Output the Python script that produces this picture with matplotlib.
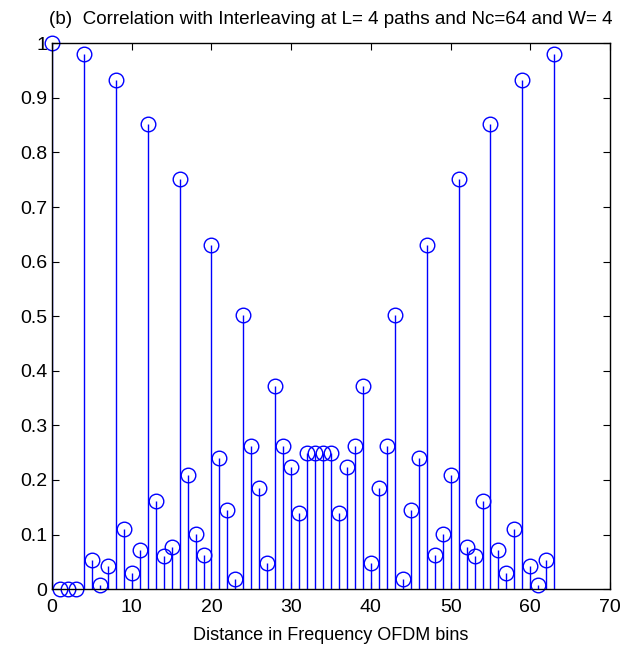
import matplotlib
matplotlib.use('Agg')
import numpy as np
import matplotlib.pyplot as plt
from matplotlib.ticker import FormatStrFormatter

matplotlib.rcParams['font.family'] = ['Liberation Sans', 'DejaVu Sans']
matplotlib.rcParams['font.size'] = 14

# distance in bins (0..63) and correlation values
distance = list(range(64))
corr = [1.000, 0.000, 0.000, 0.000, 0.981, 0.054, 0.008, 0.043,
        0.932, 0.110, 0.029, 0.071, 0.853, 0.162, 0.060, 0.078,
        0.751, 0.209, 0.101, 0.063, 0.631, 0.241, 0.145, 0.019,
        0.503, 0.262, 0.186, 0.048, 0.372, 0.262, 0.224, 0.139,
        0.250, 0.250, 0.250, 0.250, 0.139, 0.224, 0.262, 0.372,
        0.048, 0.186, 0.262, 0.503, 0.019, 0.145, 0.241, 0.631,
        0.063, 0.101, 0.209, 0.751, 0.078, 0.060, 0.162, 0.853,
        0.071, 0.029, 0.110, 0.932, 0.043, 0.008, 0.054, 0.981]

title = '(b)  Correlation with Interleaving at L= 4 paths and Nc=64 and W= 4'

fig = plt.figure(figsize=(6.27, 6.46), dpi=100)
ax = fig.add_axes([0.083, 0.088, 0.890, 0.845])

markerline, stemlines, baseline = ax.stem(distance, corr, linefmt='b-', markerfmt='o', basefmt='k-')
markerline.set_markerfacecolor('none')
markerline.set_markeredgecolor('blue')
markerline.set_markersize(10.5)
markerline.set_markeredgewidth(1.0)
markerline.set_clip_on(False)
stemlines.set_linewidth(1.0)
baseline.set_visible(False)

ax.set_xlim(0, 70)
ax.set_ylim(0, 1)
ax.set_xticks(np.arange(0, 71, 10))
ax.set_yticks(np.arange(0, 1.01, 0.1))
ax.yaxis.set_major_formatter(FormatStrFormatter('%g'))
ax.tick_params(direction='in', top=True, right=True, length=5, labelsize=14)
ax.tick_params(axis='x', pad=7)
for s in ax.spines.values():
    s.set_linewidth(1.0)

ax.set_xlabel('Distance in Frequency OFDM bins', fontsize=13, labelpad=8)
ax.set_title(title, fontsize=13.6, family=['Liberation Sans Narrow', 'Liberation Sans'], pad=14)

fig.savefig('out.png', dpi=100)
